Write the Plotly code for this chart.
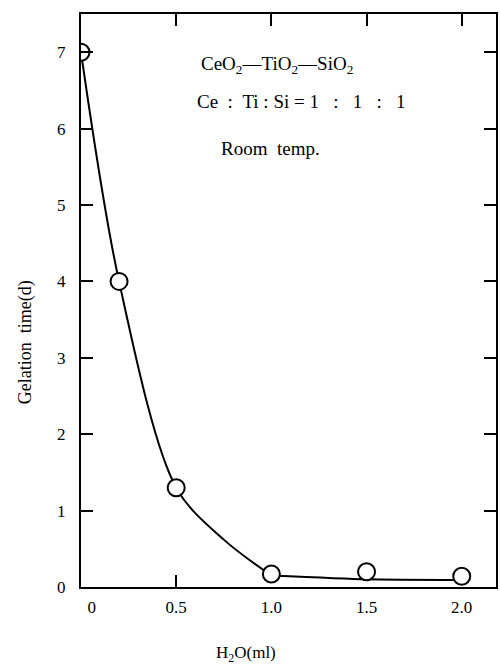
import plotly.graph_objects as go

# Measured gelation times
h2o_ml = [0.0, 0.2, 0.5, 1.0, 1.5, 2.0]
gel_days = [7.0, 4.0, 1.3, 0.17, 0.2, 0.14]

# Smoothed trend: steep decay up to 1.0 ml, then an almost flat tail
decay_x = [0.0, 0.2, 0.5, 0.75, 1.0]
decay_y = [7.0, 4.0, 1.3, 0.62, 0.15]
tail_x = [1.0, 1.5, 2.0]
tail_y = [0.15, 0.10, 0.09]

x_tickvals = [0, 0.5, 1.0, 1.5, 2.0]
x_ticktext = ["\u00a0\u00a0\u00a0\u00a0\u00a00", "0.5", "1.0", "1.5", "2.0"]
y_tickvals = [0, 1, 2, 3, 4, 5, 6, 7]

SERIF = "Liberation Serif, Times New Roman, serif"

fig = go.Figure()
fig.add_trace(go.Scatter(
    x=decay_x, y=decay_y, mode="lines",
    line=dict(color="black", width=2, shape="spline", smoothing=0.9),
    hoverinfo="skip", showlegend=False,
))
fig.add_trace(go.Scatter(
    x=tail_x, y=tail_y, mode="lines",
    line=dict(color="black", width=2, shape="spline", smoothing=0.6),
    hoverinfo="skip", showlegend=False,
))
fig.add_trace(go.Scatter(
    x=h2o_ml, y=gel_days, mode="markers",
    marker=dict(symbol="circle", size=17, color="white",
                line=dict(color="black", width=2)),
    showlegend=False,
))
# inward ticks along the top edge
fig.add_trace(go.Scatter(x=[None], y=[None], xaxis="x2", showlegend=False))
# single inward tick on the bottom edge
fig.add_trace(go.Scatter(x=[None], y=[None], xaxis="x3", showlegend=False))

xr = [0, 2.18]
fig.update_layout(
    width=500, height=664,
    margin=dict(l=81, r=2, t=14, b=77),
    paper_bgcolor="white", plot_bgcolor="white",
    font=dict(family=SERIF, size=17, color="black"),
    xaxis=dict(
        range=xr, tickvals=x_tickvals, ticktext=x_ticktext,
        ticks="", showgrid=False, zeroline=False,
        showline=True, linecolor="black", linewidth=2, mirror=True,
        ticklabelstandoff=4,
    ),
    xaxis2=dict(
        range=xr, overlaying="x", side="top", tickvals=[0.5, 1.0, 1.5, 2.0],
        ticks="inside", ticklen=12, tickwidth=2, tickcolor="black",
        showticklabels=False, showgrid=False, zeroline=False, showline=False,
    ),
    xaxis3=dict(
        range=xr, overlaying="x", side="bottom", tickvals=[0.5],
        ticks="inside", ticklen=12, tickwidth=2, tickcolor="black",
        showticklabels=False, showgrid=False, zeroline=False, showline=False,
    ),
    yaxis=dict(
        range=[0, 7.5], tickvals=y_tickvals,
        ticks="inside", ticklen=12, tickwidth=2, tickcolor="black",
        showgrid=False, zeroline=False,
        showline=True, linecolor="black", linewidth=2, mirror="ticks",
        ticklabelstandoff=10,
    ),
)

def px_to_paper(px, py):
    return (px - 81) / 417, 1 - (py - 14) / 573

# axis titles
tx, ty = px_to_paper(247, 667)
fig.add_annotation(text="H<sub>2</sub>O(ml)", xref="paper", yref="paper",
                   x=tx, y=ty, xanchor="center", yanchor="bottom",
                   showarrow=False, font=dict(family=SERIF, size=17))
tx, ty = px_to_paper(25, 342)
fig.add_annotation(text="Gelation\u00a0\u00a0time(d)", xref="paper", yref="paper",
                   x=tx, y=ty, xanchor="center", yanchor="middle", textangle=-90,
                   showarrow=False, font=dict(family=SERIF, size=18))

notes = [
    ("CeO<sub>2</sub>\u2014TiO<sub>2</sub>\u2014SiO<sub>2</sub>", 200, 65),
    ("Ce\u00a0\u00a0:\u00a0\u00a0Ti\u00a0:\u00a0Si\u00a0=\u00a01\u00a0\u00a0\u00a0:"
     "\u00a0\u00a0\u00a01\u00a0\u00a0\u00a0:\u00a0\u00a0\u00a01", 196, 102),
    ("Room\u00a0\u00a0temp.", 220, 148),
]
for text, px, py in notes:
    ax, ay = px_to_paper(px, py)
    fig.add_annotation(
        text=text, xref="paper", yref="paper", x=ax, y=ay,
        xanchor="left", yanchor="middle", showarrow=False,
        font=dict(family=SERIF, size=19, color="black"),
    )

fig.write_html("out.html")
